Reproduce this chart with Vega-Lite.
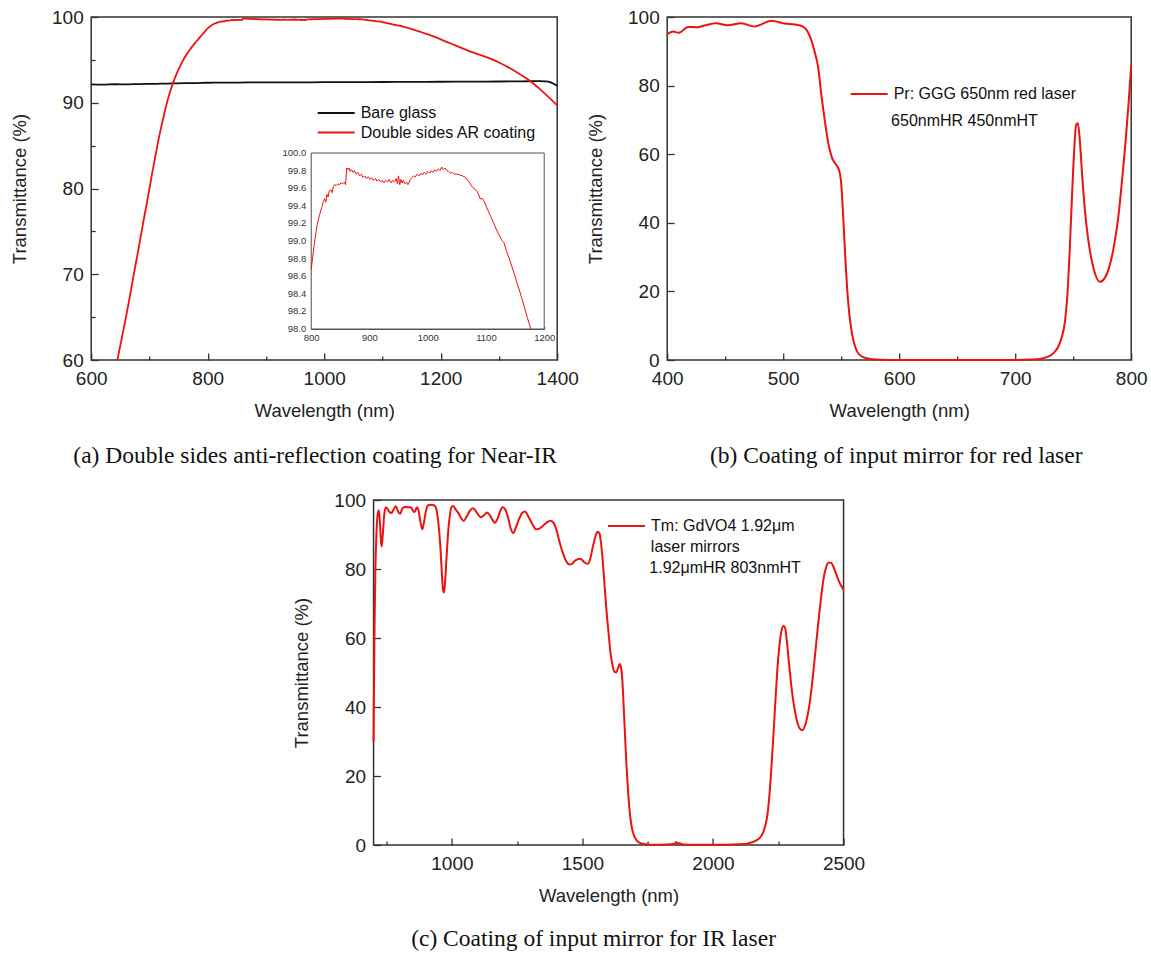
{
  "$schema": "https://vega.github.io/schema/vega-lite/v6.json",
  "background": "white",
  "padding": {"left": 9, "top": 7, "right": 0, "bottom": 0},
  "config": {
    "view": {"stroke": "#333", "strokeWidth": 1.5},
    "axis": {"grid": false, "domain": false, "labelFont": "Liberation Sans", "labelFontSize": 19, "labelColor": "#222", "titleFont": "Liberation Sans", "titleFontSize": 18.5, "titleFontWeight": "normal", "titleColor": "#222", "tickColor": "#333", "tickWidth": 1.3, "tickSize": -7, "labelFlush": false, "labelOverlap": false, "labelBound": false},
    "axisX": {"labelPadding": 16.6, "titlePadding": 12.5},
    "axisY": {"labelPadding": 15, "titlePadding": 22},
    "legend": {"orient": "none", "labelFont": "Liberation Sans", "labelFontSize": 16, "labelColor": "#111", "labelLimit": 0, "symbolType": "M-1.85,0H1.85", "symbolStrokeWidth": 2, "symbolSize": 400, "labelOffset": 13.5, "rowPadding": 0.6, "padding": 0},
    "title": {"font": "Liberation Serif", "fontSize": 23.5, "fontWeight": "normal", "color": "#111", "orient": "bottom", "anchor": "middle", "frame": "group", "offset": 24},
    "text": {"font": "Liberation Sans", "fontSize": 16, "color": "#111", "align": "left", "baseline": "middle"}
  },
  "datasets": {
    "a": [
      {"wl": 600, "T": 92.15, "s": "Bare glass"}, {"wl": 620, "T": 92.12, "s": "Bare glass"}, {"wl": 640, "T": 92.16, "s": "Bare glass"}, {"wl": 660, "T": 92.14, "s": "Bare glass"}, {"wl": 680, "T": 92.18, "s": "Bare glass"}, {"wl": 700, "T": 92.2, "s": "Bare glass"}, {"wl": 720, "T": 92.22, "s": "Bare glass"}, {"wl": 740, "T": 92.25, "s": "Bare glass"}, {"wl": 760, "T": 92.28, "s": "Bare glass"}, {"wl": 780, "T": 92.3, "s": "Bare glass"}, {"wl": 800, "T": 92.33, "s": "Bare glass"}, {"wl": 850, "T": 92.35, "s": "Bare glass"}, {"wl": 900, "T": 92.38, "s": "Bare glass"}, {"wl": 950, "T": 92.37, "s": "Bare glass"}, {"wl": 1000, "T": 92.4, "s": "Bare glass"}, {"wl": 1050, "T": 92.4, "s": "Bare glass"}, {"wl": 1100, "T": 92.42, "s": "Bare glass"}, {"wl": 1150, "T": 92.43, "s": "Bare glass"}, {"wl": 1200, "T": 92.45, "s": "Bare glass"}, {"wl": 1250, "T": 92.46, "s": "Bare glass"}, {"wl": 1300, "T": 92.48, "s": "Bare glass"}, {"wl": 1340, "T": 92.5, "s": "Bare glass"}, {"wl": 1370, "T": 92.52, "s": "Bare glass"}, {"wl": 1380, "T": 92.5, "s": "Bare glass"}, {"wl": 1388, "T": 92.4, "s": "Bare glass"}, {"wl": 1394, "T": 92.2, "s": "Bare glass"}, {"wl": 1400, "T": 92.0, "s": "Bare glass"},
      {"wl": 645, "T": 60.0, "s": "Double sides AR coating"}, {"wl": 650, "T": 61.7, "s": "Double sides AR coating"}, {"wl": 655, "T": 63.4, "s": "Double sides AR coating"}, {"wl": 660, "T": 65.1, "s": "Double sides AR coating"}, {"wl": 665, "T": 66.9, "s": "Double sides AR coating"}, {"wl": 670, "T": 68.8, "s": "Double sides AR coating"}, {"wl": 675, "T": 70.7, "s": "Double sides AR coating"}, {"wl": 680, "T": 72.5, "s": "Double sides AR coating"}, {"wl": 685, "T": 74.4, "s": "Double sides AR coating"}, {"wl": 690, "T": 76.3, "s": "Double sides AR coating"}, {"wl": 695, "T": 78.1, "s": "Double sides AR coating"}, {"wl": 700, "T": 80.0, "s": "Double sides AR coating"}, {"wl": 705, "T": 81.9, "s": "Double sides AR coating"}, {"wl": 710, "T": 83.7, "s": "Double sides AR coating"}, {"wl": 715, "T": 85.5, "s": "Double sides AR coating"}, {"wl": 720, "T": 87.1, "s": "Double sides AR coating"}, {"wl": 725, "T": 88.6, "s": "Double sides AR coating"}, {"wl": 730, "T": 90.0, "s": "Double sides AR coating"}, {"wl": 735, "T": 91.2, "s": "Double sides AR coating"}, {"wl": 741, "T": 92.4, "s": "Double sides AR coating"}, {"wl": 748, "T": 93.6, "s": "Double sides AR coating"}, {"wl": 755, "T": 94.6, "s": "Double sides AR coating"}, {"wl": 762, "T": 95.45, "s": "Double sides AR coating"}, {"wl": 770, "T": 96.25, "s": "Double sides AR coating"}, {"wl": 778, "T": 96.95, "s": "Double sides AR coating"}, {"wl": 785, "T": 97.5, "s": "Double sides AR coating"}, {"wl": 790, "T": 97.9, "s": "Double sides AR coating"}, {"wl": 795, "T": 98.3, "s": "Double sides AR coating"},
      {"wl": 800, "T": 98.68, "s": "Double sides AR coating"}, {"wl": 803, "T": 98.84, "s": "Double sides AR coating"}, {"wl": 806, "T": 99.0, "s": "Double sides AR coating"}, {"wl": 810, "T": 99.18, "s": "Double sides AR coating"}, {"wl": 814, "T": 99.29, "s": "Double sides AR coating"}, {"wl": 818, "T": 99.38, "s": "Double sides AR coating"}, {"wl": 821, "T": 99.45, "s": "Double sides AR coating"}, {"wl": 823, "T": 99.48, "s": "Double sides AR coating"}, {"wl": 825, "T": 99.44, "s": "Double sides AR coating"}, {"wl": 827, "T": 99.53, "s": "Double sides AR coating"}, {"wl": 829, "T": 99.5, "s": "Double sides AR coating"}, {"wl": 831, "T": 99.57, "s": "Double sides AR coating"}, {"wl": 834, "T": 99.58, "s": "Double sides AR coating"}, {"wl": 836, "T": 99.55, "s": "Double sides AR coating"}, {"wl": 838, "T": 99.62, "s": "Double sides AR coating"}, {"wl": 840, "T": 99.64, "s": "Double sides AR coating"}, {"wl": 843, "T": 99.63, "s": "Double sides AR coating"}, {"wl": 846, "T": 99.65, "s": "Double sides AR coating"}, {"wl": 849, "T": 99.64, "s": "Double sides AR coating"}, {"wl": 851, "T": 99.66, "s": "Double sides AR coating"}, {"wl": 854, "T": 99.65, "s": "Double sides AR coating"}, {"wl": 857, "T": 99.67, "s": "Double sides AR coating"}, {"wl": 859, "T": 99.64, "s": "Double sides AR coating"}, {"wl": 861, "T": 99.83, "s": "Double sides AR coating"}, {"wl": 863, "T": 99.81, "s": "Double sides AR coating"}, {"wl": 865, "T": 99.83, "s": "Double sides AR coating"}, {"wl": 867, "T": 99.79, "s": "Double sides AR coating"}, {"wl": 869, "T": 99.81, "s": "Double sides AR coating"}, {"wl": 872, "T": 99.78, "s": "Double sides AR coating"}, {"wl": 874, "T": 99.8, "s": "Double sides AR coating"}, {"wl": 877, "T": 99.76, "s": "Double sides AR coating"}, {"wl": 880, "T": 99.78, "s": "Double sides AR coating"}, {"wl": 883, "T": 99.74, "s": "Double sides AR coating"}, {"wl": 886, "T": 99.76, "s": "Double sides AR coating"}, {"wl": 889, "T": 99.72, "s": "Double sides AR coating"}, {"wl": 892, "T": 99.74, "s": "Double sides AR coating"}, {"wl": 895, "T": 99.71, "s": "Double sides AR coating"}, {"wl": 898, "T": 99.73, "s": "Double sides AR coating"}, {"wl": 901, "T": 99.7, "s": "Double sides AR coating"}, {"wl": 904, "T": 99.72, "s": "Double sides AR coating"}, {"wl": 907, "T": 99.69, "s": "Double sides AR coating"}, {"wl": 910, "T": 99.71, "s": "Double sides AR coating"}, {"wl": 913, "T": 99.68, "s": "Double sides AR coating"}, {"wl": 916, "T": 99.7, "s": "Double sides AR coating"}, {"wl": 919, "T": 99.67, "s": "Double sides AR coating"}, {"wl": 922, "T": 99.69, "s": "Double sides AR coating"}, {"wl": 925, "T": 99.66, "s": "Double sides AR coating"}, {"wl": 928, "T": 99.69, "s": "Double sides AR coating"}, {"wl": 931, "T": 99.67, "s": "Double sides AR coating"}, {"wl": 934, "T": 99.7, "s": "Double sides AR coating"}, {"wl": 937, "T": 99.66, "s": "Double sides AR coating"}, {"wl": 940, "T": 99.69, "s": "Double sides AR coating"}, {"wl": 943, "T": 99.67, "s": "Double sides AR coating"}, {"wl": 946, "T": 99.71, "s": "Double sides AR coating"}, {"wl": 948, "T": 99.65, "s": "Double sides AR coating"}, {"wl": 950, "T": 99.74, "s": "Double sides AR coating"}, {"wl": 952, "T": 99.64, "s": "Double sides AR coating"}, {"wl": 954, "T": 99.7, "s": "Double sides AR coating"}, {"wl": 956, "T": 99.66, "s": "Double sides AR coating"}, {"wl": 958, "T": 99.69, "s": "Double sides AR coating"}, {"wl": 961, "T": 99.65, "s": "Double sides AR coating"}, {"wl": 964, "T": 99.67, "s": "Double sides AR coating"}, {"wl": 966, "T": 99.64, "s": "Double sides AR coating"}, {"wl": 968, "T": 99.66, "s": "Double sides AR coating"}, {"wl": 970, "T": 99.7, "s": "Double sides AR coating"}, {"wl": 973, "T": 99.72, "s": "Double sides AR coating"}, {"wl": 976, "T": 99.74, "s": "Double sides AR coating"}, {"wl": 979, "T": 99.73, "s": "Double sides AR coating"}, {"wl": 982, "T": 99.76, "s": "Double sides AR coating"}, {"wl": 985, "T": 99.74, "s": "Double sides AR coating"}, {"wl": 988, "T": 99.77, "s": "Double sides AR coating"}, {"wl": 991, "T": 99.75, "s": "Double sides AR coating"}, {"wl": 994, "T": 99.78, "s": "Double sides AR coating"}, {"wl": 997, "T": 99.76, "s": "Double sides AR coating"}, {"wl": 1000, "T": 99.79, "s": "Double sides AR coating"}, {"wl": 1003, "T": 99.77, "s": "Double sides AR coating"}, {"wl": 1006, "T": 99.8, "s": "Double sides AR coating"}, {"wl": 1009, "T": 99.78, "s": "Double sides AR coating"}, {"wl": 1012, "T": 99.81, "s": "Double sides AR coating"}, {"wl": 1015, "T": 99.79, "s": "Double sides AR coating"}, {"wl": 1018, "T": 99.82, "s": "Double sides AR coating"}, {"wl": 1021, "T": 99.8, "s": "Double sides AR coating"}, {"wl": 1024, "T": 99.84, "s": "Double sides AR coating"}, {"wl": 1027, "T": 99.81, "s": "Double sides AR coating"}, {"wl": 1030, "T": 99.83, "s": "Double sides AR coating"}, {"wl": 1033, "T": 99.8, "s": "Double sides AR coating"}, {"wl": 1036, "T": 99.79, "s": "Double sides AR coating"}, {"wl": 1039, "T": 99.77, "s": "Double sides AR coating"}, {"wl": 1042, "T": 99.78, "s": "Double sides AR coating"}, {"wl": 1045, "T": 99.76, "s": "Double sides AR coating"}, {"wl": 1050, "T": 99.76, "s": "Double sides AR coating"}, {"wl": 1055, "T": 99.75, "s": "Double sides AR coating"}, {"wl": 1060, "T": 99.74, "s": "Double sides AR coating"}, {"wl": 1065, "T": 99.72, "s": "Double sides AR coating"}, {"wl": 1069, "T": 99.69, "s": "Double sides AR coating"}, {"wl": 1073, "T": 99.65, "s": "Double sides AR coating"}, {"wl": 1077, "T": 99.61, "s": "Double sides AR coating"}, {"wl": 1081, "T": 99.59, "s": "Double sides AR coating"}, {"wl": 1085, "T": 99.56, "s": "Double sides AR coating"}, {"wl": 1088, "T": 99.52, "s": "Double sides AR coating"}, {"wl": 1090, "T": 99.48, "s": "Double sides AR coating"}, {"wl": 1094, "T": 99.48, "s": "Double sides AR coating"}, {"wl": 1097, "T": 99.45, "s": "Double sides AR coating"}, {"wl": 1100, "T": 99.4, "s": "Double sides AR coating"}, {"wl": 1104, "T": 99.34, "s": "Double sides AR coating"}, {"wl": 1108, "T": 99.28, "s": "Double sides AR coating"}, {"wl": 1112, "T": 99.22, "s": "Double sides AR coating"}, {"wl": 1116, "T": 99.16, "s": "Double sides AR coating"}, {"wl": 1120, "T": 99.1, "s": "Double sides AR coating"}, {"wl": 1124, "T": 99.05, "s": "Double sides AR coating"}, {"wl": 1128, "T": 99.0, "s": "Double sides AR coating"}, {"wl": 1131, "T": 98.98, "s": "Double sides AR coating"}, {"wl": 1135, "T": 98.89, "s": "Double sides AR coating"}, {"wl": 1140, "T": 98.8, "s": "Double sides AR coating"}, {"wl": 1145, "T": 98.7, "s": "Double sides AR coating"}, {"wl": 1149, "T": 98.62, "s": "Double sides AR coating"}, {"wl": 1153, "T": 98.53, "s": "Double sides AR coating"}, {"wl": 1157, "T": 98.45, "s": "Double sides AR coating"}, {"wl": 1161, "T": 98.36, "s": "Double sides AR coating"}, {"wl": 1166, "T": 98.25, "s": "Double sides AR coating"}, {"wl": 1171, "T": 98.13, "s": "Double sides AR coating"}, {"wl": 1177, "T": 98.0, "s": "Double sides AR coating"},
      {"wl": 1185, "T": 97.8, "s": "Double sides AR coating"}, {"wl": 1200, "T": 97.4, "s": "Double sides AR coating"}, {"wl": 1225, "T": 96.7, "s": "Double sides AR coating"}, {"wl": 1250, "T": 96.0, "s": "Double sides AR coating"}, {"wl": 1275, "T": 95.4, "s": "Double sides AR coating"}, {"wl": 1300, "T": 94.7, "s": "Double sides AR coating"}, {"wl": 1325, "T": 93.8, "s": "Double sides AR coating"}, {"wl": 1350, "T": 92.7, "s": "Double sides AR coating"}, {"wl": 1375, "T": 91.3, "s": "Double sides AR coating"}, {"wl": 1400, "T": 89.7, "s": "Double sides AR coating"}
    ],
    "b": [
      {"wl": 400, "T": 95.0}, {"wl": 405, "T": 95.8}, {"wl": 410, "T": 95.4}, {"wl": 418, "T": 97.1}, {"wl": 426, "T": 97.0}, {"wl": 432, "T": 97.5}, {"wl": 442, "T": 98.2}, {"wl": 452, "T": 97.6}, {"wl": 464, "T": 98.2}, {"wl": 475, "T": 97.2}, {"wl": 490, "T": 98.9}, {"wl": 501, "T": 98.1}, {"wl": 510, "T": 97.8}, {"wl": 517, "T": 97.2}, {"wl": 521, "T": 95.8}, {"wl": 524, "T": 93.5}, {"wl": 527, "T": 90.0}, {"wl": 530, "T": 85.6}, {"wl": 533, "T": 77.0}, {"wl": 536, "T": 69.5}, {"wl": 539, "T": 63.0}, {"wl": 542, "T": 59.0}, {"wl": 545, "T": 57.2}, {"wl": 548, "T": 55.5}, {"wl": 550, "T": 51.5}, {"wl": 552, "T": 40.0}, {"wl": 554, "T": 27.0}, {"wl": 556, "T": 17.0}, {"wl": 558, "T": 10.5}, {"wl": 561, "T": 5.0}, {"wl": 564, "T": 2.3}, {"wl": 568, "T": 1.0}, {"wl": 575, "T": 0.3}, {"wl": 585, "T": 0.05}, {"wl": 600, "T": 0.0}, {"wl": 650, "T": 0.0}, {"wl": 700, "T": 0.02}, {"wl": 715, "T": 0.15}, {"wl": 722, "T": 0.4}, {"wl": 728, "T": 0.9}, {"wl": 733, "T": 2.0}, {"wl": 737, "T": 3.8}, {"wl": 740, "T": 6.5}, {"wl": 743, "T": 11.5}, {"wl": 745, "T": 19.0}, {"wl": 747, "T": 32.0}, {"wl": 749, "T": 48.0}, {"wl": 751, "T": 62.0}, {"wl": 752.5, "T": 68.5}, {"wl": 754, "T": 69.0}, {"wl": 755.5, "T": 65.0}, {"wl": 757.5, "T": 55.0}, {"wl": 760, "T": 44.0}, {"wl": 763, "T": 35.0}, {"wl": 766, "T": 29.0}, {"wl": 769, "T": 25.0}, {"wl": 773, "T": 22.8}, {"wl": 777, "T": 23.8}, {"wl": 781, "T": 27.0}, {"wl": 785, "T": 33.0}, {"wl": 789, "T": 42.0}, {"wl": 792, "T": 52.0}, {"wl": 795, "T": 63.0}, {"wl": 798, "T": 76.0}, {"wl": 800, "T": 86.0}
    ],
    "c": [
      {"wl": 700, "T": 30}, {"wl": 702, "T": 48}, {"wl": 704, "T": 65}, {"wl": 707, "T": 80}, {"wl": 711, "T": 90}, {"wl": 716, "T": 96}, {"wl": 720, "T": 97}, {"wl": 724, "T": 94}, {"wl": 728, "T": 88.5}, {"wl": 731, "T": 86.5}, {"wl": 735, "T": 89.5}, {"wl": 740, "T": 95}, {"wl": 746, "T": 97.8}, {"wl": 752, "T": 97.6}, {"wl": 760, "T": 96.6}, {"wl": 768, "T": 96.2}, {"wl": 775, "T": 97.0}, {"wl": 785, "T": 98.2}, {"wl": 795, "T": 96.5}, {"wl": 802, "T": 96.0}, {"wl": 810, "T": 97.5}, {"wl": 820, "T": 98.0}, {"wl": 830, "T": 97.9}, {"wl": 843, "T": 97.9}, {"wl": 850, "T": 97.0}, {"wl": 857, "T": 96.5}, {"wl": 866, "T": 97.9}, {"wl": 872, "T": 97.0}, {"wl": 880, "T": 93.5}, {"wl": 887, "T": 91.5}, {"wl": 893, "T": 93.5}, {"wl": 900, "T": 96.5}, {"wl": 908, "T": 98.4}, {"wl": 920, "T": 98.6}, {"wl": 933, "T": 98.4}, {"wl": 940, "T": 97.5}, {"wl": 948, "T": 93.5}, {"wl": 955, "T": 87.5}, {"wl": 960, "T": 81}, {"wl": 966, "T": 74}, {"wl": 970, "T": 73.2}, {"wl": 975, "T": 77.5}, {"wl": 980, "T": 84}, {"wl": 986, "T": 91}, {"wl": 992, "T": 95.5}, {"wl": 1000, "T": 98.2}, {"wl": 1006, "T": 98.2}, {"wl": 1015, "T": 97.2}, {"wl": 1025, "T": 96.2}, {"wl": 1035, "T": 94.8}, {"wl": 1045, "T": 93.9}, {"wl": 1055, "T": 95.0}, {"wl": 1068, "T": 96.8}, {"wl": 1080, "T": 97.6}, {"wl": 1090, "T": 97.0}, {"wl": 1100, "T": 95.8}, {"wl": 1110, "T": 95.0}, {"wl": 1120, "T": 95.4}, {"wl": 1135, "T": 96.4}, {"wl": 1145, "T": 95.6}, {"wl": 1155, "T": 94.3}, {"wl": 1165, "T": 93.4}, {"wl": 1175, "T": 94.6}, {"wl": 1185, "T": 96.8}, {"wl": 1195, "T": 97.9}, {"wl": 1205, "T": 97.2}, {"wl": 1215, "T": 95.0}, {"wl": 1225, "T": 91.8}, {"wl": 1235, "T": 90.4}, {"wl": 1245, "T": 92.0}, {"wl": 1258, "T": 94.6}, {"wl": 1270, "T": 96.3}, {"wl": 1280, "T": 96.7}, {"wl": 1290, "T": 95.6}, {"wl": 1300, "T": 94.2}, {"wl": 1312, "T": 92.5}, {"wl": 1322, "T": 91.5}, {"wl": 1335, "T": 91.7}, {"wl": 1350, "T": 92.6}, {"wl": 1365, "T": 93.6}, {"wl": 1378, "T": 94.0}, {"wl": 1390, "T": 93.3}, {"wl": 1400, "T": 91.5}, {"wl": 1410, "T": 88.5}, {"wl": 1420, "T": 85.8}, {"wl": 1430, "T": 83.6}, {"wl": 1440, "T": 82.0}, {"wl": 1450, "T": 81.3}, {"wl": 1460, "T": 81.5}, {"wl": 1470, "T": 82.3}, {"wl": 1480, "T": 82.8}, {"wl": 1490, "T": 83.0}, {"wl": 1500, "T": 82.5}, {"wl": 1510, "T": 81.8}, {"wl": 1520, "T": 81.5}, {"wl": 1530, "T": 83.0}, {"wl": 1540, "T": 86.5}, {"wl": 1550, "T": 89.5}, {"wl": 1558, "T": 90.8}, {"wl": 1565, "T": 90.3}, {"wl": 1572, "T": 87.0}, {"wl": 1578, "T": 82.0}, {"wl": 1585, "T": 75.0}, {"wl": 1592, "T": 68.0}, {"wl": 1600, "T": 61.5}, {"wl": 1607, "T": 56.0}, {"wl": 1614, "T": 52.5}, {"wl": 1622, "T": 50.3}, {"wl": 1630, "T": 50.0}, {"wl": 1637, "T": 51.5}, {"wl": 1643, "T": 52.5}, {"wl": 1648, "T": 51.3}, {"wl": 1653, "T": 47.5}, {"wl": 1658, "T": 40.0}, {"wl": 1663, "T": 32.0}, {"wl": 1668, "T": 24.0}, {"wl": 1674, "T": 16.5}, {"wl": 1680, "T": 10.5}, {"wl": 1688, "T": 5.5}, {"wl": 1697, "T": 2.8}, {"wl": 1708, "T": 1.3}, {"wl": 1720, "T": 0.6}, {"wl": 1735, "T": 0.3}, {"wl": 1760, "T": 0.1}, {"wl": 1800, "T": 0.1}, {"wl": 1840, "T": 0.2}, {"wl": 1855, "T": 0.5}, {"wl": 1860, "T": 0.9}, {"wl": 1865, "T": 0.3}, {"wl": 1872, "T": 0.6}, {"wl": 1880, "T": 0.2}, {"wl": 1900, "T": 0.1}, {"wl": 1950, "T": 0.1}, {"wl": 2000, "T": 0.1}, {"wl": 2050, "T": 0.1}, {"wl": 2100, "T": 0.2}, {"wl": 2130, "T": 0.4}, {"wl": 2150, "T": 0.8}, {"wl": 2165, "T": 1.3}, {"wl": 2178, "T": 2.0}, {"wl": 2190, "T": 3.3}, {"wl": 2200, "T": 5.5}, {"wl": 2208, "T": 8.5}, {"wl": 2215, "T": 13.5}, {"wl": 2222, "T": 20.5}, {"wl": 2230, "T": 30.0}, {"wl": 2238, "T": 40.5}, {"wl": 2246, "T": 50.5}, {"wl": 2254, "T": 57.5}, {"wl": 2262, "T": 62.0}, {"wl": 2270, "T": 63.5}, {"wl": 2276, "T": 63.0}, {"wl": 2283, "T": 59.0}, {"wl": 2290, "T": 53.5}, {"wl": 2298, "T": 47.5}, {"wl": 2306, "T": 42.5}, {"wl": 2315, "T": 38.3}, {"wl": 2325, "T": 35.0}, {"wl": 2335, "T": 33.5}, {"wl": 2343, "T": 33.3}, {"wl": 2352, "T": 34.5}, {"wl": 2362, "T": 37.5}, {"wl": 2372, "T": 42.0}, {"wl": 2382, "T": 48.5}, {"wl": 2392, "T": 56.0}, {"wl": 2402, "T": 63.5}, {"wl": 2412, "T": 70.5}, {"wl": 2422, "T": 76.5}, {"wl": 2432, "T": 80.2}, {"wl": 2442, "T": 81.8}, {"wl": 2452, "T": 81.8}, {"wl": 2462, "T": 80.5}, {"wl": 2472, "T": 78.5}, {"wl": 2482, "T": 76.5}, {"wl": 2492, "T": 75.0}, {"wl": 2500, "T": 74.0}
    ]
  },
  "resolve": {"scale": {"color": "independent"}, "legend": {"color": "independent"}},
  "spacing": 22,
  "center": true,
  "vconcat": [
    {
      "hconcat": [
        {
          "width": 466,
          "height": 343,
          "title": {"text": "(a) Double sides anti-reflection coating for Near-IR", "dx": -9},
          "layer": [
            {
              "data": {"name": "a"},
              "mark": {"type": "line", "strokeWidth": 1.8, "interpolate": "monotone"},
              "encoding": {
                "x": {"field": "wl", "type": "quantitative", "scale": {"domain": [600, 1400], "nice": false, "zero": false},
                  "axis": {"orient": "bottom", "title": "Wavelength (nm)", "format": "d", "values": [600, 700, 800, 900, 1000, 1100, 1200, 1300, 1400], "labelExpr": "datum.value % 200 === 0 ? datum.label : ''", "tickDash": {"condition": {"test": "datum.value % 200 !== 0", "value": [4, 20]}, "value": []}}},
                "y": {"field": "T", "type": "quantitative", "scale": {"domain": [60, 100], "nice": false, "zero": false},
                  "axis": {"orient": "left", "title": "Transmittance (%)", "values": [60, 65, 70, 75, 80, 85, 90, 95, 100], "labelExpr": "datum.value % 10 === 0 ? datum.label : ''", "tickDash": {"condition": {"test": "datum.value % 10 !== 0", "value": [4, 20]}, "value": []}}},
                "color": {"field": "s", "type": "nominal", "scale": {"domain": ["Bare glass", "Double sides AR coating"], "range": ["#111111", "#ee1111"]},
                  "legend": {"title": null, "legendX": 234, "legendY": 85}}
              }
            },
            {
              "layer": [
                {
                  "data": {"values": [{}]},
                  "mark": {"type": "rect", "fill": "white", "stroke": "#555", "strokeWidth": 1},
                  "encoding": {
                    "x": {"datum": 800, "type": "quantitative"},
                    "x2": {"datum": 1200},
                    "y": {"datum": 98, "type": "quantitative"},
                    "y2": {"datum": 100}
                  }
                },
                {
                  "data": {"name": "a"},
                  "transform": [{"filter": "datum.s === 'Double sides AR coating' && datum.wl >= 800 && datum.wl <= 1177"}],
                  "mark": {"type": "line", "color": "#ee1111", "strokeWidth": 1},
                  "encoding": {
                    "x": {"field": "wl", "type": "quantitative", "scale": {"domain": [800, 1200], "range": [220, 453], "nice": false, "zero": false},
                      "axis": {"orient": "bottom", "offset": -31, "title": null, "format": "d", "domain": true, "domainColor": "#555", "domainWidth": 1, "tickColor": "#555", "tickWidth": 1, "tickSize": -3, "labelFontSize": 9.5, "labelColor": "#333", "labelPadding": 6, "labelOverlap": false, "values": [800, 850, 900, 950, 1000, 1050, 1100, 1150, 1200], "labelExpr": "datum.value % 100 === 0 ? datum.label : ''"}},
                    "y": {"field": "T", "type": "quantitative", "scale": {"domain": [98, 100], "range": [312, 136], "nice": false, "zero": false},
                      "axis": {"orient": "left", "offset": -220, "title": null, "labels": false, "domain": true, "domainColor": "#555", "domainWidth": 1, "tickColor": "#555", "tickWidth": 1, "tickSize": -3, "values": [98, 98.1, 98.2, 98.3, 98.4, 98.5, 98.6, 98.7, 98.8, 98.9, 99, 99.1, 99.2, 99.3, 99.4, 99.5, 99.6, 99.7, 99.8, 99.9, 100]}}
                  }
                },
                {
                  "data": {"values": [{"v": 98.0}, {"v": 98.2}, {"v": 98.4}, {"v": 98.6}, {"v": 98.8}, {"v": 99.0}, {"v": 99.2}, {"v": 99.4}, {"v": 99.6}, {"v": 99.8}, {"v": 100.0}]},
                  "mark": {"type": "text", "align": "right", "baseline": "middle", "dx": -5, "fontSize": 9.5, "color": "#333"},
                  "encoding": {
                    "x": {"datum": 800, "type": "quantitative",
                      "axis": {"orient": "bottom", "offset": -31, "title": null, "format": "d", "domain": true, "domainColor": "#555", "domainWidth": 1, "tickColor": "#555", "tickWidth": 1, "tickSize": -3, "labelFontSize": 9.5, "labelColor": "#333", "labelPadding": 6, "labelOverlap": false, "values": [800, 850, 900, 950, 1000, 1050, 1100, 1150, 1200], "labelExpr": "datum.value % 100 === 0 ? datum.label : ''"}},
                    "y": {"field": "v", "type": "quantitative",
                      "axis": {"orient": "left", "offset": -220, "title": null, "labels": false, "domain": true, "domainColor": "#555", "domainWidth": 1, "tickColor": "#555", "tickWidth": 1, "tickSize": -3, "values": [98, 98.1, 98.2, 98.3, 98.4, 98.5, 98.6, 98.7, 98.8, 98.9, 99, 99.1, 99.2, 99.3, 99.4, 99.5, 99.6, 99.7, 99.8, 99.9, 100]}},
                    "text": {"field": "v", "type": "quantitative", "format": ".1f"}
                  }
                }
              ]
            }
          ],
          "resolve": {"scale": {"x": "independent", "y": "independent"}, "axis": {"x": "independent", "y": "independent"}}
        },
        {
          "width": 464,
          "height": 343,
          "title": {"text": "(b) Coating of input mirror for red laser", "dx": -3},
          "layer": [
            {
              "data": {"name": "b"},
              "mark": {"type": "line", "strokeWidth": 2, "interpolate": "monotone"},
              "encoding": {
                "x": {"field": "wl", "type": "quantitative", "scale": {"domain": [400, 800], "nice": false, "zero": false},
                  "axis": {"title": "Wavelength (nm)", "format": "d", "values": [400, 450, 500, 550, 600, 650, 700, 750, 800], "labelExpr": "datum.value % 100 === 0 ? datum.label : ''", "tickDash": {"condition": {"test": "datum.value % 100 !== 0", "value": [4, 20]}, "value": []}}},
                "y": {"field": "T", "type": "quantitative", "scale": {"domain": [0, 100], "nice": false},
                  "axis": {"title": "Transmittance (%)", "values": [0, 10, 20, 30, 40, 50, 60, 70, 80, 90, 100], "labelExpr": "datum.value % 20 === 0 ? datum.label : ''", "tickDash": {"condition": {"test": "datum.value % 20 !== 0", "value": [4, 20]}, "value": []}}},
                "color": {"datum": "Pr: GGG 650nm red laser", "type": "nominal", "scale": {"range": ["#ee1111"]}, "legend": {"title": null, "legendX": 191, "legendY": 66}}
              }
            },
            {
              "data": {"values": [{"label": "650nmHR 450nmHT"}]},
              "mark": {"type": "text"},
              "encoding": {
                "x": {"datum": 593, "type": "quantitative"},
                "y": {"datum": 69.7, "type": "quantitative"},
                "text": {"field": "label"}
              }
            }
          ]
        }
      ],
      "spacing": 110,
      "bounds": "flush",
      "resolve": {"scale": {"color": "independent"}, "legend": {"color": "independent"}}
    },
    {
      "width": 470,
      "height": 345,
      "title": {"text": "(c) Coating of input mirror for IR laser", "dx": -15, "offset": 22},
      "layer": [
        {
          "data": {"name": "c"},
          "mark": {"type": "line", "strokeWidth": 2, "interpolate": "monotone"},
          "encoding": {
            "x": {"field": "wl", "type": "quantitative", "scale": {"domain": [700, 2500], "nice": false, "zero": false},
              "axis": {"title": "Wavelength (nm)", "format": "d", "values": [750, 1000, 1250, 1500, 1750, 2000, 2250, 2500], "labelExpr": "datum.value % 500 === 0 ? datum.label : ''", "tickDash": {"condition": {"test": "datum.value % 500 !== 0", "value": [4, 20]}, "value": []}}},
            "y": {"field": "T", "type": "quantitative", "scale": {"domain": [0, 100], "nice": false},
              "axis": {"title": "Transmittance (%)", "values": [0, 10, 20, 30, 40, 50, 60, 70, 80, 90, 100], "labelExpr": "datum.value % 20 === 0 ? datum.label : ''", "tickDash": {"condition": {"test": "datum.value % 20 !== 0", "value": [4, 20]}, "value": []}}},
            "color": {"datum": "Tm: GdVO4 1.92μm", "type": "nominal", "scale": {"range": ["#ee1111"]}, "legend": {"title": null, "legendX": 242, "legendY": 15}}
          }
        },
        {
          "data": {"values": [{"label": "laser mirrors"}]},
          "mark": {"type": "text"},
          "encoding": {
            "x": {"datum": 1762, "type": "quantitative"},
            "y": {"datum": 86.5, "type": "quantitative"},
            "text": {"field": "label"}
          }
        },
        {
          "data": {"values": [{"label": "1.92μmHR 803nmHT"}]},
          "mark": {"type": "text"},
          "encoding": {
            "x": {"datum": 1756, "type": "quantitative"},
            "y": {"datum": 80.3, "type": "quantitative"},
            "text": {"field": "label"}
          }
        }
      ]
    }
  ]
}
